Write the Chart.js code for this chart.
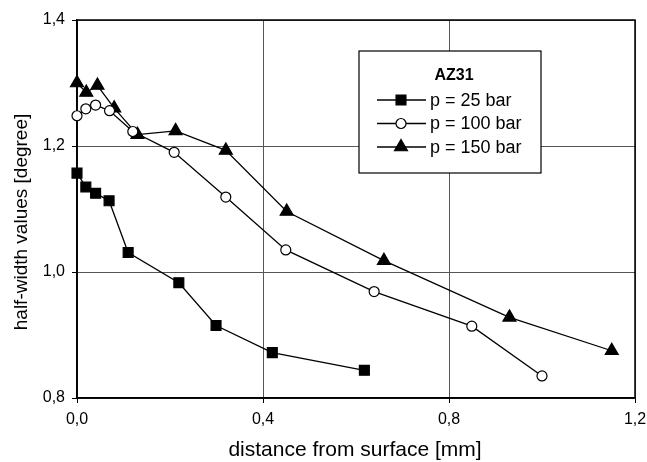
<!DOCTYPE html>
<html>
<head>
<meta charset="utf-8">
<script src="https://cdn.jsdelivr.net/npm/chart.js@4.4.0/dist/chart.umd.min.js"></script>
<style>
  html, body { margin: 0; padding: 0; background: #fff; }
  #wrap { width: 647px; height: 462px; }
</style>
</head>
<body>
<div id="wrap"><canvas id="c" width="647" height="462"></canvas></div>
<script>
// values
const x25  = [0.0, 0.019, 0.04, 0.069, 0.11, 0.219, 0.299, 0.42, 0.618];
const y25  = [1.157, 1.135, 1.125, 1.113, 1.031, 0.983, 0.915, 0.872, 0.844];
const x100 = [0.0, 0.019, 0.04, 0.07, 0.12, 0.209, 0.32, 0.449, 0.639, 0.849, 1.0];
const y100 = [1.248, 1.259, 1.265, 1.256, 1.223, 1.19, 1.119, 1.035, 0.969, 0.914, 0.835];
const x150 = [0.0, 0.02, 0.044, 0.08, 0.13, 0.212, 0.32, 0.451, 0.66, 0.93, 1.15];
const y150 = [1.30, 1.285, 1.296, 1.26, 1.218, 1.224, 1.193, 1.096, 1.018, 0.928, 0.875];

const legendTitle = 'AZ31';
const labels = ['p = 25 bar', 'p = 100 bar', 'p = 150 bar'];
const xTitle = 'distance from surface [mm]';
const yTitle = 'half-width values [degree]';

const FONT = 'Arial, "Liberation Sans", Helvetica, sans-serif';
const pts = (xs, ys) => xs.map((x, i) => ({ x, y: ys[i] }));
const comma = v => Number(v).toFixed(1).replace('.', ',');

function ds(label, data, style, radius, fill){
  return {
    label, data,
    showLine: true,
    clip: false,
    borderColor: '#000',
    borderWidth: 1.3,
    pointStyle: style,
    pointRadius: radius,
    pointBackgroundColor: fill,
    pointBorderColor: '#000',
    pointBorderWidth: 1.2,
    tension: 0
  };
}

// frame round the plot, axis titles, boxed legend
const frameAndLegend = {
  id: 'frameAndLegend',
  beforeDatasetsDraw(chart){
    const ctx = chart.ctx, a = chart.chartArea;
    ctx.save();
    ctx.strokeStyle = '#000';
    ctx.lineWidth = 1.5;
    ctx.strokeRect(a.left, a.top, a.right - a.left, a.bottom - a.top);
    ctx.restore();
  },
  afterDraw(chart){
    const ctx = chart.ctx;
    ctx.save();
    ctx.fillStyle = '#000';
    ctx.textAlign = 'center';
    ctx.textBaseline = 'middle';
    ctx.font = '21px ' + FONT;
    ctx.fillText(xTitle, 355, 450);
    ctx.save();
    ctx.translate(22, 222);
    ctx.rotate(-Math.PI / 2);
    ctx.font = '19px ' + FONT;
    ctx.fillText(yTitle, 0, 0);
    ctx.restore();

    // legend box
    const bx = 359, by = 51, bw = 182, bh = 122;
    ctx.fillStyle = '#fff';
    ctx.fillRect(bx, by, bw, bh);
    ctx.strokeStyle = '#000';
    ctx.lineWidth = 1.2;
    ctx.strokeRect(bx, by, bw, bh);
    ctx.fillStyle = '#000';
    ctx.font = 'bold 16px ' + FONT;
    ctx.fillText(legendTitle, bx + bw / 2 + 4, by + 25);
    ctx.font = '18px ' + FONT;
    ctx.textAlign = 'left';
    chart.data.datasets.forEach((d, i) => {
      const y = by + 49 + i * 23.5;
      ctx.strokeStyle = '#000';
      ctx.lineWidth = 1.3;
      ctx.beginPath(); ctx.moveTo(377, y); ctx.lineTo(426, y); ctx.stroke();
      ctx.fillStyle = d.pointBackgroundColor;
      ctx.lineWidth = 1.2;
      Chart.helpers.drawPoint(ctx, { pointStyle: d.pointStyle, radius: d.pointRadius, rotation: 0, borderWidth: 1.2 }, 401, y);
      ctx.fillStyle = '#000';
      ctx.fillText(d.label, 430, y + 1);
    });
    ctx.restore();
  }
};

new Chart(document.getElementById('c'), {
  type: 'scatter',
  data: {
    datasets: [
      ds(labels[0], pts(x25, y25), 'rect', 7, '#000'),
      ds(labels[1], pts(x100, y100), 'circle', 5, '#fff'),
      ds(labels[2], pts(x150, y150), 'triangle', 7.5, '#000')
    ]
  },
  options: {
    responsive: false,
    animation: false,
    layout: { padding: { left: 0, top: 20, right: 0, bottom: 0 } },
    plugins: { legend: { display: false }, tooltip: { enabled: false } },
    scales: {
      x: {
        type: 'linear', min: 0, max: 1.2,
        afterFit: s => { s.height = 64; s.paddingRight = 12; },
        ticks: { stepSize: 0.4, color: '#000', font: { family: FONT, size: 16 }, padding: 7, maxRotation: 0, callback: comma },
        grid: { color: '#555', lineWidth: 1, tickLength: 5, tickColor: '#000' },
        border: { color: '#000', width: 1.5 }
      },
      y: {
        type: 'linear', min: 0.8, max: 1.4,
        afterFit: s => { s.width = 77; },
        ticks: { stepSize: 0.2, color: '#000', font: { family: FONT, size: 16 }, padding: 7, callback: comma },
        grid: { color: '#555', lineWidth: 1, tickLength: 5, tickColor: '#000' },
        border: { color: '#000', width: 1.5 }
      }
    }
  },
  plugins: [frameAndLegend]
});
</script>
</body>
</html>
